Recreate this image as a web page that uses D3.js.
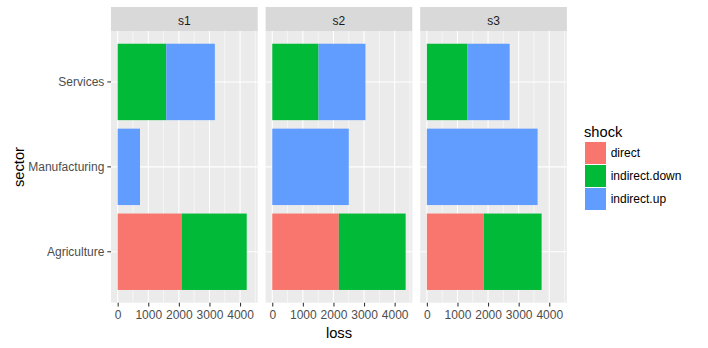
<!DOCTYPE html>
<html><head><meta charset="utf-8">
<script src="https://cdn.jsdelivr.net/npm/d3@7"></script>
<style>body{margin:0;background:#fff}svg{display:block}text{font-family:"Liberation Sans",Arial,sans-serif}</style>
</head><body>
<script>
// ---- data ----
const sectors = ["Agriculture", "Manufacturing", "Services"];
const scenarios = ["s1", "s2", "s3"];
const shocks = ["direct", "indirect.down", "indirect.up"];
// rows = scenarios (s1,s2,s3), columns = sectors (Agriculture, Manufacturing, Services)
const direct       = [[2100, 0, 0],    [2175, 0, 0],    [1858, 0, 0]];
const indirectDown = [[2118, 0, 1588], [2184, 0, 1513], [1892, 0, 1326]];
const indirectUp   = [[0, 730, 1588],  [0, 2501, 1532], [0, 3619, 1380]];
const xTicks = [0, 1000, 2000, 3000, 4000];
const colors = ["#F8766D", "#00BA38", "#619CFF"];

const W = 708, H = 348;
const svg = d3.select("body").append("svg").attr("width", W).attr("height", H);

const seriesVals = [direct, indirectDown, indirectUp];
// build stacked rows
const rows = [];
scenarios.forEach((sc, si) => {
  sectors.forEach((sec, ci) => {
    let x0 = 0;
    shocks.forEach((sh, k) => {
      const v = seriesVals[k][si][ci];
      if (v > 0) rows.push({ scenario: sc, sector: sec, shock: sh, x0: x0, x1: x0 + v });
      x0 += v;
    });
  });
});
const maxTotal = d3.max(rows, d => d.x1);

const panelW = 146.7, panelTop = 31, panelBottom = 302.7, stripTop = 7;
const panelLefts = [111, 265.6, 420.2];

const x = d3.scaleLinear().domain([-maxTotal * 0.05, maxTotal * 1.05]).range([0, panelW]);
const y = d3.scaleBand().domain(sectors.slice().reverse()).range([panelTop, panelBottom]).paddingInner(0.1).paddingOuter(0.15);
const color = d3.scaleOrdinal().domain(shocks).range(colors);

const minorTicks = d3.range(-500, maxTotal * 1.05 + 500, 1000).filter(v => v > x.domain()[0] && v < x.domain()[1]);

scenarios.forEach((sc, i) => {
  const g = svg.append("g").attr("transform", `translate(${panelLefts[i]},0)`);
  // background
  g.append("rect").attr("x", 0).attr("y", panelTop).attr("width", panelW).attr("height", panelBottom - panelTop).attr("fill", "#EBEBEB");
  // minor grid
  g.selectAll(".minor").data(minorTicks).enter().append("line")
    .attr("x1", d => x(d)).attr("x2", d => x(d)).attr("y1", panelTop).attr("y2", panelBottom)
    .attr("stroke", "#fff").attr("stroke-width", 0.55);
  // major grid
  g.selectAll(".majx").data(xTicks).enter().append("line")
    .attr("x1", d => x(d)).attr("x2", d => x(d)).attr("y1", panelTop).attr("y2", panelBottom)
    .attr("stroke", "#fff").attr("stroke-width", 1.07);
  g.selectAll(".majy").data(sectors).enter().append("line")
    .attr("x1", 0).attr("x2", panelW).attr("y1", d => y(d) + y.bandwidth() / 2).attr("y2", d => y(d) + y.bandwidth() / 2)
    .attr("stroke", "#fff").attr("stroke-width", 1.07);
  // strip
  g.append("rect").attr("x", 0).attr("y", stripTop).attr("width", panelW).attr("height", panelTop - stripTop).attr("fill", "#D9D9D9");
  g.append("text").attr("x", panelW / 2).attr("y", 24.5).attr("text-anchor", "middle")
    .attr("font-size", 12).attr("fill", "#1A1A1A").text(sc);
  // bars
  g.selectAll(".bar").data(rows.filter(r => r.scenario === sc)).enter().append("rect")
    .attr("x", d => x(d.x0)).attr("width", d => x(d.x1) - x(d.x0))
    .attr("y", d => y(d.sector)).attr("height", y.bandwidth())
    .attr("fill", d => color(d.shock));
  // x axis
  const ax = g.append("g").attr("transform", `translate(0,${panelBottom})`)
    .call(d3.axisBottom(x).tickValues(xTicks).tickFormat(d3.format("d")).tickSizeOuter(0).tickSizeInner(3.7).tickPadding(4));
  ax.select(".domain").remove();
  ax.selectAll("line").attr("stroke", "#333333").attr("stroke-width", 1.07);
  ax.selectAll("text").attr("font-size", 12).attr("fill", "#4D4D4D")
    .style("font-family", '"Liberation Sans",Arial,sans-serif');
});

// y axis
const ay = svg.append("g").attr("transform", `translate(${panelLefts[0]},0)`)
  .call(d3.axisLeft(y).tickSizeOuter(0).tickSizeInner(3.7).tickPadding(3));
ay.select(".domain").remove();
ay.selectAll("line").attr("stroke", "#333333").attr("stroke-width", 1.07);
ay.selectAll("text").attr("font-size", 12).attr("fill", "#4D4D4D")
  .style("font-family", '"Liberation Sans",Arial,sans-serif');

// axis titles
svg.append("text").attr("x", (panelLefts[0] + panelLefts[2] + panelW) / 2).attr("y", 337.5)
  .attr("text-anchor", "middle").attr("font-size", 14.7).attr("fill", "#000").text("loss");
svg.append("text").attr("transform", "translate(24,167) rotate(-90)")
  .attr("text-anchor", "middle").attr("font-size", 14.7).attr("fill", "#000").text("sector");

// legend
const lg = svg.append("g").attr("transform", "translate(584,0)");
lg.append("text").attr("x", 0).attr("y", 136.5).attr("font-size", 14.7).attr("fill", "#000").text("shock");
shocks.forEach((s, i) => {
  const ky = 142 + i * 23;
  lg.append("rect").attr("x", 1).attr("y", ky).attr("width", 21).attr("height", 22).attr("fill", color(s));
  lg.append("text").attr("x", 26.7).attr("y", ky + 11 + 4.3).attr("font-size", 12).attr("fill", "#000").text(s);
});
</script>
</body></html>
